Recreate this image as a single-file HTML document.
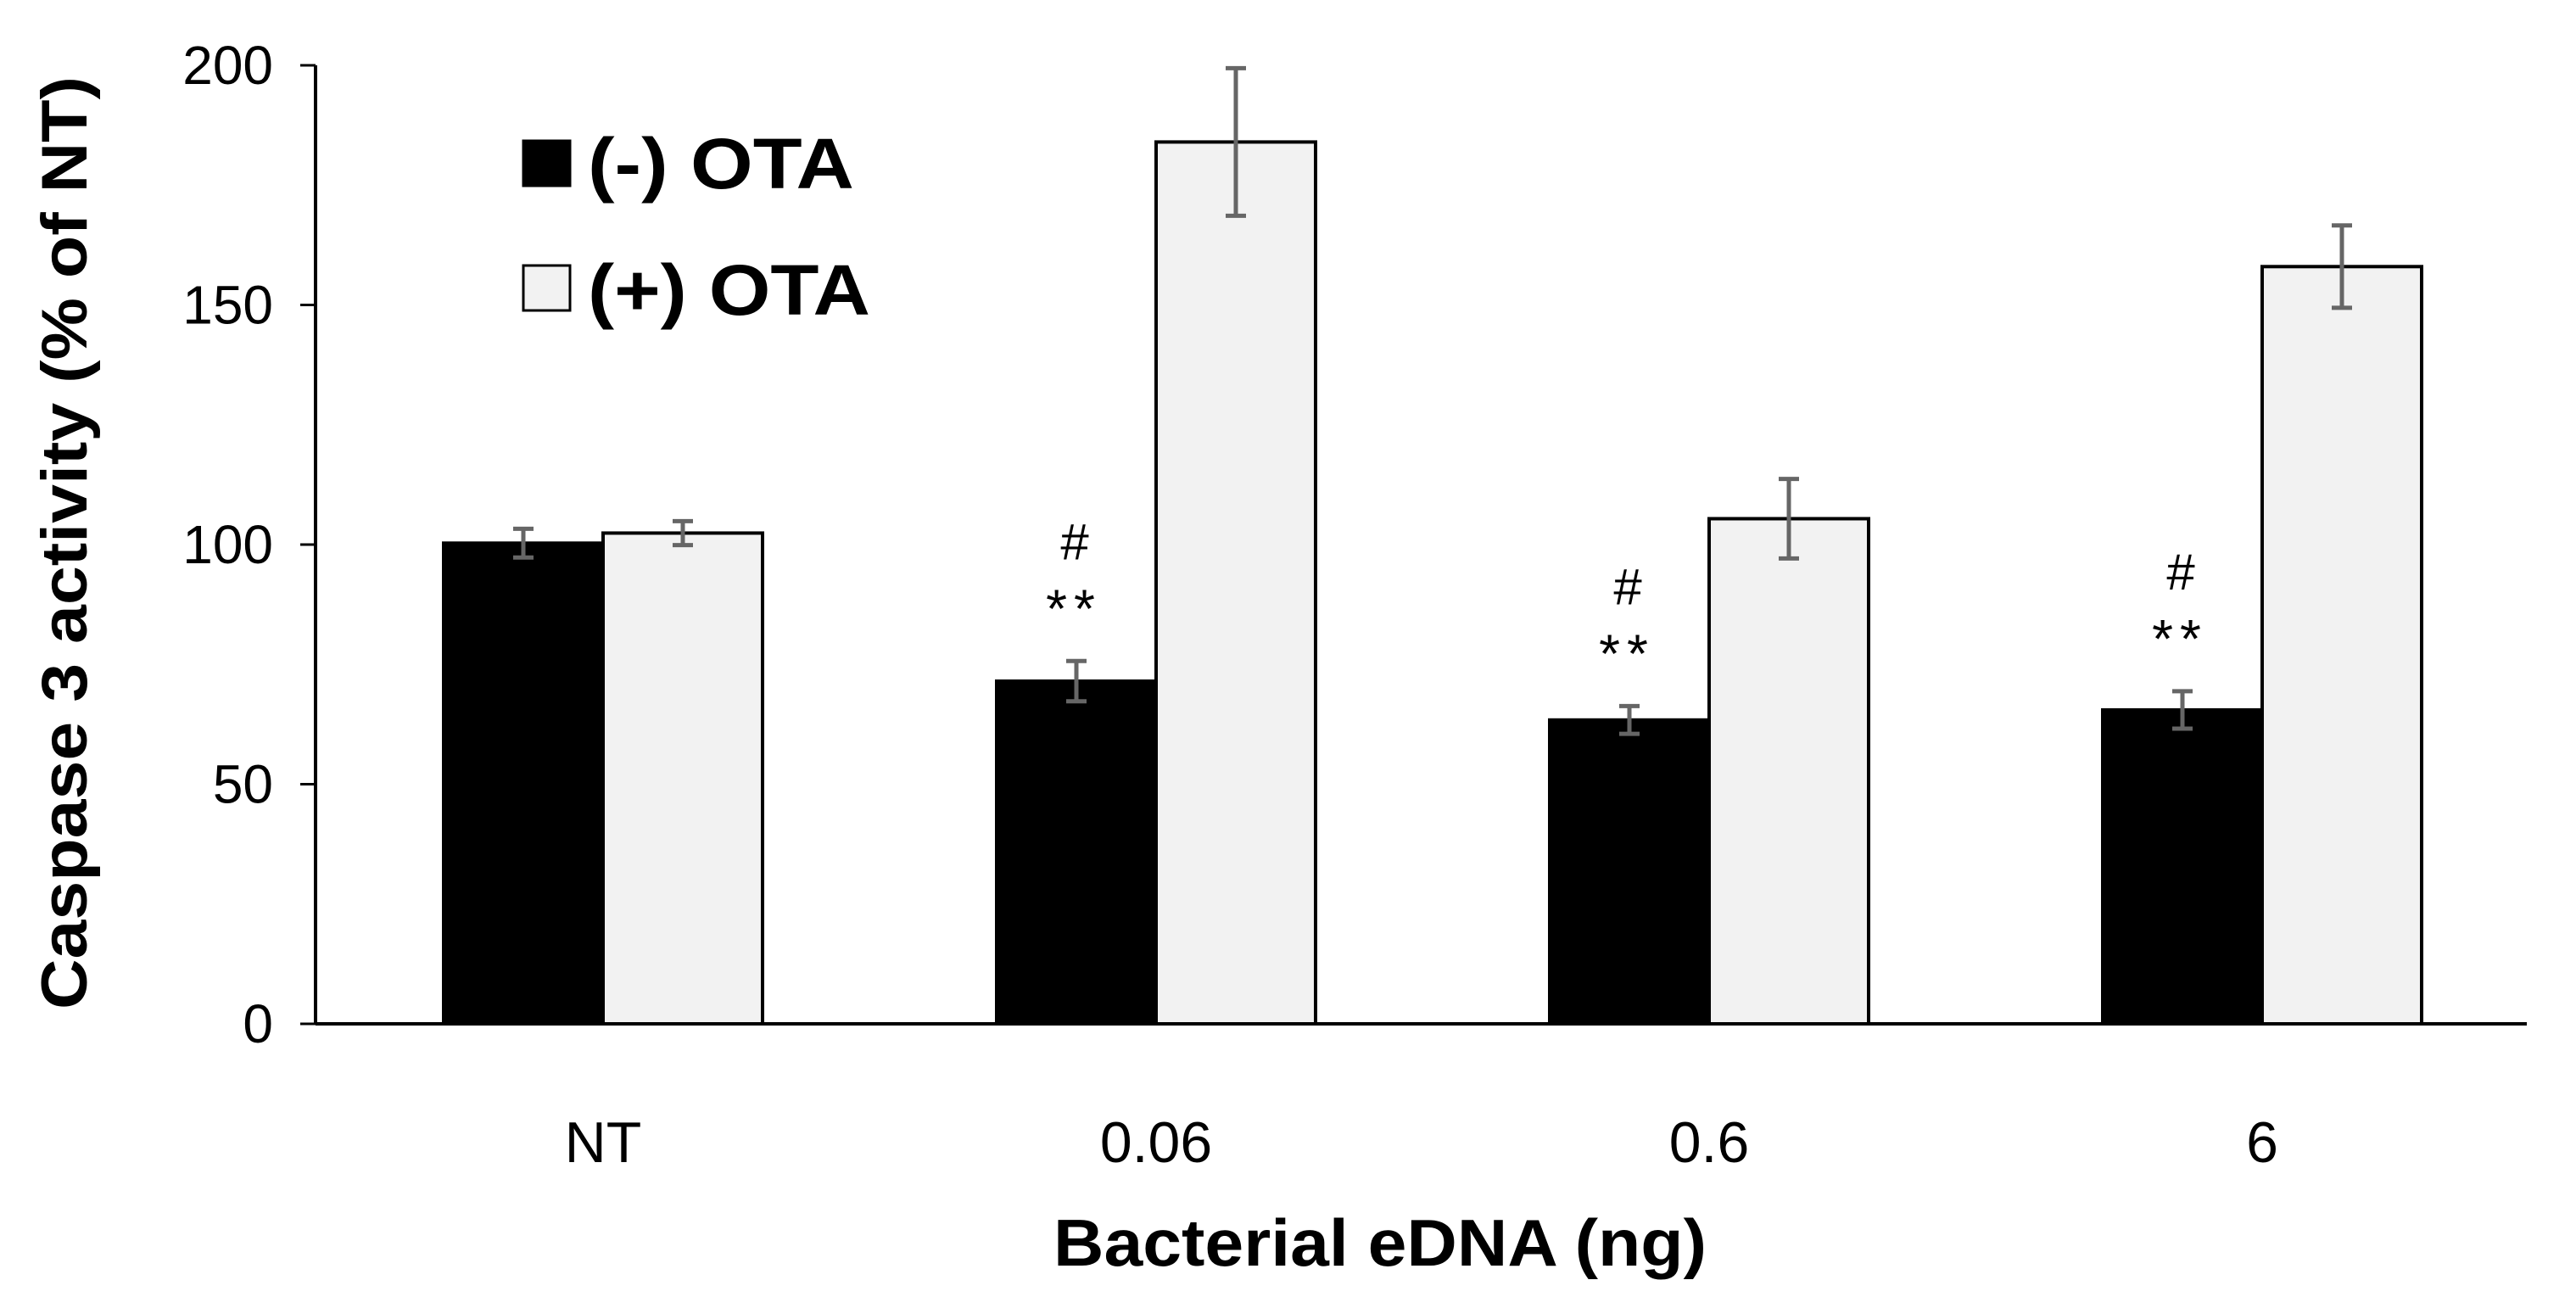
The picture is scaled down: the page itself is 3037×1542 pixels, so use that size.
<!DOCTYPE html>
<html><head><meta charset="utf-8"><style>
html,body{margin:0;padding:0;background:#fff;}
svg{display:block;font-family:"Liberation Sans",sans-serif;}
</style></head><body>
<svg id="chart" width="3037" height="1542" viewBox="0 0 3037 1542" xmlns="http://www.w3.org/2000/svg">
<g id="plot"></g>
<text transform="translate(102,640) rotate(-90)" text-anchor="middle" font-size="76" font-weight="bold" textLength="1100" lengthAdjust="spacingAndGlyphs">Caspase 3 activity (% of NT)</text>
<text x="1627" y="1492" text-anchor="middle" font-size="78" font-weight="bold" textLength="770" lengthAdjust="spacingAndGlyphs">Bacterial eDNA (ng)</text>
<g>
<rect x="617" y="166" width="55" height="53" fill="#000" stroke="#000" stroke-width="3"/>
<text x="693" y="222" font-size="84" font-weight="bold" textLength="314" lengthAdjust="spacingAndGlyphs">(-) OTA</text>
<rect x="617" y="313" width="55" height="53" fill="#f2f2f2" stroke="#000" stroke-width="3"/>
<text x="693" y="371" font-size="84" font-weight="bold" textLength="333" lengthAdjust="spacingAndGlyphs">(+) OTA</text>
</g>
</svg>
<script>
const categories = ["NT", "0.06", "0.6", "6"];
const minusOta = [100.3, 71.5, 63.4, 65.5];
const minusOtaErr = [3, 4.2, 2.9, 3.9];
const plusOta = [102.4, 184, 105.4, 158];
const plusOtaErr = [2.5, 15.4, 8.3, 8.6];
const yTicks = [0, 50, 100, 150, 200];
const sigHash = ["", "#", "#", "#"];
const sigStar = ["", "**", "**", "**"];

const NS = "http://www.w3.org/2000/svg";
const g = document.getElementById("plot");
const y0 = 1207, yTop = 77, axisX = 372, plotRight = 2979;
function yScale(v){ return y0 - v * (y0 - yTop) / 200; }
function xCenter(i){ return 711 + 652 * i; }
const barW = 188;
function mk(tag, attrs){ const e = document.createElementNS(NS, tag); for (const k in attrs) e.setAttribute(k, attrs[k]); g.appendChild(e); return e; }

yTicks.forEach(t => {
  const y = yScale(t);
  const tk = mk("line", {x1: 354, x2: axisX, y1: y, y2: y, stroke: "#000", "stroke-width": 3});
  
  
  const lb = mk("text", {x: 322, y: y + 22, "text-anchor": "end", "font-size": 64, fill: "#000"});
  lb.textContent = t;
  
  
});

function errBar(cx, v, e){
  const a = mk("line", {x1: cx, x2: cx, y1: yScale(v + e), y2: yScale(v - e), stroke: "#666", "stroke-width": 5});
  
  
  [v + e, v - e].forEach(w => {
    const c = mk("line", {x1: cx - 12, x2: cx + 12, y1: yScale(w), y2: yScale(w), stroke: "#666", "stroke-width": 5});
    
    
  });
}

categories.forEach((c, i) => {
  const xc = xCenter(i);
  const b1 = mk("rect", {x: xc - barW, y: yScale(minusOta[i]), width: barW, height: y0 - yScale(minusOta[i]), fill: "#000", stroke: "#000", "stroke-width": 4});
  
  
  const b2 = mk("rect", {x: xc, y: yScale(plusOta[i]), width: barW, height: y0 - yScale(plusOta[i]), fill: "#f2f2f2", stroke: "#000", "stroke-width": 4});
  
  
  errBar(xc - barW / 2, minusOta[i], minusOtaErr[i]);
  errBar(xc + barW / 2, plusOta[i], plusOtaErr[i]);
  const topV = minusOta[i] + minusOtaErr[i];
  if (sigStar[i]) {
    const s = mk("text", {x: xc - barW / 2 - 3, y: yScale(topV) - 40, "text-anchor": "middle", "font-size": 64, fill: "#000", "letter-spacing": "8"});
    s.textContent = sigStar[i];
    
    
  }
  if (sigHash[i]) {
    const h = mk("text", {x: xc - barW / 2 - 2, y: yScale(topV) - 120, "text-anchor": "middle", "font-size": 60, fill: "#000"});
    h.textContent = sigHash[i];
    
    
  }
  const xl = mk("text", {x: xc, y: 1370, "text-anchor": "middle", "font-size": 68, fill: "#000"});
  xl.textContent = c;
  
  
});

const ya = mk("line", {x1: axisX, x2: axisX, y1: yTop, y2: y0, stroke: "#000", "stroke-width": 4});


const xa = mk("line", {x1: axisX, x2: plotRight, y1: y0, y2: y0, stroke: "#000", "stroke-width": 4});


</script>
</body></html>
